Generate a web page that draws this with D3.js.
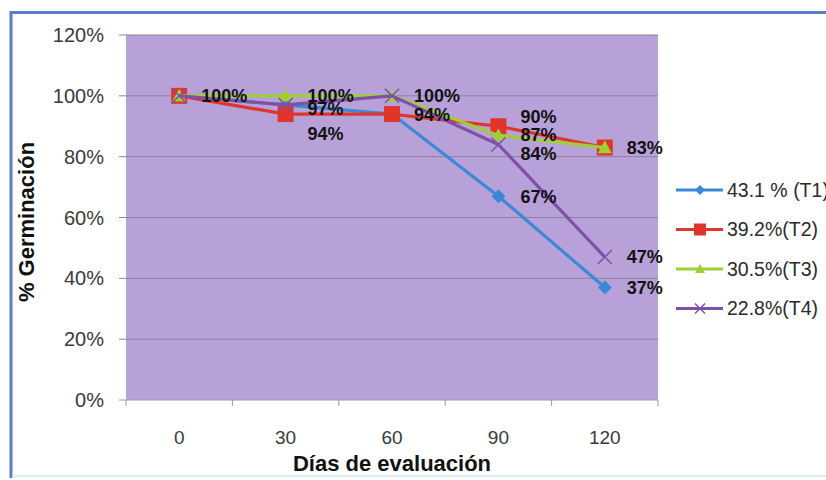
<!DOCTYPE html>
<html>
<head>
<meta charset="utf-8">
<script src="https://cdn.jsdelivr.net/npm/d3@7"></script>
<style>
  body { margin: 0; background: #fff; }
  svg { display: block; font-family: "Liberation Sans", Arial, sans-serif; }
</style>
</head>
<body>
<svg id="chart" width="826" height="480"></svg>
<script>
// data
const days = ["0", "30", "60", "90", "120"];
const seriesNames = ["43.1 % (T1)", "39.2%(T2)", "30.5%(T3)", "22.8%(T4)"];
const t1 = [100, 97, 94, 67, 37];
const t2 = [100, 94, 94, 90, 83];
const t3 = [100, 100, 100, 87, 83];
const t4 = [100, 97, 100, 84, 47];
const yTicks = [0, 20, 40, 60, 80, 100, 120];
// which points carry a value label: [series index, day index]
const labelPoints = [
    [0, 0], [2, 1], [0, 1], [1, 1], [3, 2], [1, 2],
    [1, 3], [2, 3], [3, 3], [0, 3], [1, 4], [3, 4], [0, 4]
];

const allSeries = [t1, t2, t3, t4];
const colors = ["#3d88d6", "#e0352b", "#9fcf35", "#7e50a8"];
const shapes = ["diamond", "square", "triangle", "cross"];

const svg = d3.select("#chart");

// frame
svg.append("rect").attr("x", 0).attr("y", 0).attr("width", 826).attr("height", 480).attr("fill", "#fff");
svg.append("line").attr("x1", 10).attr("x2", 826).attr("y1", 12.5).attr("y2", 12.5)
    .attr("stroke", "#5b7ec6").attr("stroke-width", 3);
svg.append("line").attr("x1", 11).attr("x2", 11).attr("y1", 11).attr("y2", 478)
    .attr("stroke", "#5b7ec6").attr("stroke-width", 3);
svg.append("line").attr("x1", 12).attr("x2", 826).attr("y1", 476).attr("y2", 476)
    .attr("stroke", "#d6ecf8").attr("stroke-width", 2);

const plotLeft = 126, plotRight = 658, plotTop = 35, plotBottom = 400;

let xscale = d3.scaleBand()
    .domain(days)
    .range([plotLeft, plotRight]);

let yscale = d3.scaleLinear()
    .domain([0, 120])
    .range([plotBottom, plotTop]);

const cx = d => xscale(d) + xscale.bandwidth() / 2;

// plot area
svg.append("rect")
    .attr("x", plotLeft).attr("y", plotTop)
    .attr("width", plotRight - plotLeft).attr("height", plotBottom - plotTop)
    .attr("fill", "#b8a1d9");

// gridlines + y labels
yTicks.forEach(t => {
    svg.append("line")
        .attr("x1", plotLeft - 7).attr("x2", plotRight)
        .attr("y1", yscale(t)).attr("y2", yscale(t))
        .attr("stroke", t === 0 ? "#9b94a6" : "#8c829c").attr("stroke-width", 1);
    svg.append("text")
        .attr("x", 104).attr("y", yscale(t))
        .attr("dy", "0.35em")
        .attr("text-anchor", "end")
        .attr("font-size", 20)
        .attr("fill", "#3a3a3a")
        .text(t + "%");
});

// x ticks at band edges
days.concat(["end"]).forEach((d, i) => {
    let x = i < days.length ? xscale(d) : plotRight;
    svg.append("line")
        .attr("x1", x).attr("x2", x)
        .attr("y1", plotBottom).attr("y2", plotBottom + 6)
        .attr("stroke", "#9b94a6");
});

days.forEach(d => {
    svg.append("text")
        .attr("x", cx(d)).attr("y", 444)
        .attr("text-anchor", "middle")
        .attr("font-size", 19)
        .attr("fill", "#3a3a3a")
        .text(d);
});

// axis titles
svg.append("text")
    .attr("x", (plotLeft + plotRight) / 2).attr("y", 471)
    .attr("text-anchor", "middle")
    .attr("font-size", 22).attr("font-weight", "bold")
    .attr("fill", "#111")
    .text("Días de evaluación");

svg.append("text")
    .attr("transform", "translate(34, 222) rotate(-90)")
    .attr("text-anchor", "middle")
    .attr("font-size", 22).attr("font-weight", "bold")
    .attr("fill", "#111")
    .text("% Germinación");

function marker(g, shape, color, x, y, s) {
    if (shape === "diamond") {
        g.append("path")
            .attr("d", `M${x},${y - s}L${x + s},${y}L${x},${y + s}L${x - s},${y}Z`)
            .attr("fill", color);
    } else if (shape === "square") {
        g.append("rect")
            .attr("x", x - s).attr("y", y - s)
            .attr("width", 2 * s).attr("height", 2 * s)
            .attr("fill", color);
    } else if (shape === "triangle") {
        g.append("path")
            .attr("d", `M${x},${y - s}L${x + s},${y + s * 0.8}L${x - s},${y + s * 0.8}Z`)
            .attr("fill", color);
    } else {
        g.append("path")
            .attr("d", `M${x - s},${y - s}L${x + s},${y + s}M${x - s},${y + s}L${x + s},${y - s}`)
            .attr("stroke", color).attr("stroke-width", 1.5);
    }
}

const markerSize = [7, 8, 7, 7];

let line = d3.line()
    .x((v, i) => cx(days[i]))
    .y(v => yscale(v));

allSeries.forEach((vals, s) => {
    let g = svg.append("g");
    g.append("path")
        .attr("d", line(vals))
        .attr("fill", "none")
        .attr("stroke", colors[s])
        .attr("stroke-width", 3.2)
        .attr("stroke-linejoin", "round");
    vals.forEach((v, i) => marker(g, shapes[s], colors[s], cx(days[i]), yscale(v), markerSize[s]));
});

// value labels, with small nudges where they overlap
const labelNudge = { "1,1": 20, "0,1": 4, "1,3": -10, "2,3": -1, "3,3": 9, "1,2": 1 };
labelPoints.forEach(([s, i]) => {
    let v = allSeries[s][i];
    let dy = labelNudge[s + "," + i] || 0;
    svg.append("text")
        .attr("x", cx(days[i]) + 22)
        .attr("y", yscale(v) + dy)
        .attr("dy", "0.35em")
        .attr("font-size", 18).attr("font-weight", "bold")
        .attr("fill", "#111")
        .text(v + "%");
});

// legend
seriesNames.forEach((name, s) => {
    let y = 190 + s * 39.5;
    let g = svg.append("g");
    g.append("line")
        .attr("x1", 676).attr("x2", 723)
        .attr("y1", y).attr("y2", y)
        .attr("stroke", colors[s]).attr("stroke-width", 3.2);
    marker(g, shapes[s], colors[s], 700, y, s === 1 ? 6 : 5);
    g.append("text")
        .attr("x", 727).attr("y", y)
        .attr("dy", "0.35em")
        .attr("font-size", 19.5)
        .attr("fill", "#2a2a2a")
        .text(name);
});
</script>
</body>
</html>
